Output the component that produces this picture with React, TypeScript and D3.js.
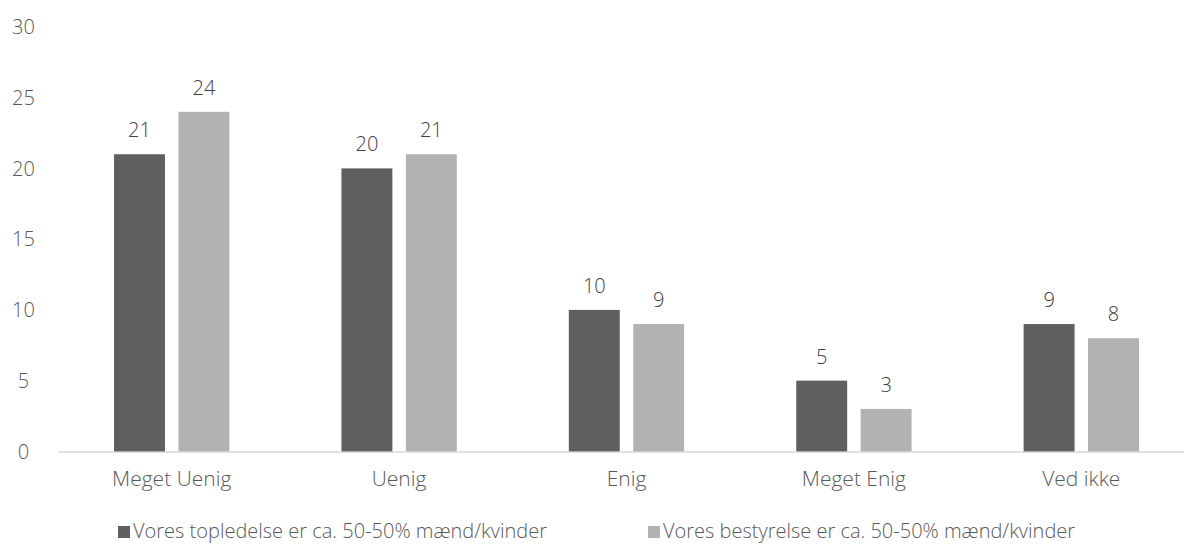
import React from "react";
import * as d3 from "d3";

const categories = ["Meget Uenig", "Uenig", "Enig", "Meget Enig", "Ved ikke"];
const topledelse = [21, 20, 10, 5, 9];
const bestyrelse = [24, 21, 9, 3, 8];
const seriesNames = [
  "Vores topledelse er ca. 50-50% mænd/kvinder",
  "Vores bestyrelse er ca. 50-50% mænd/kvinder",
];
const yTicks = [0, 5, 10, 15, 20, 25, 30];

const W = 1184;
const H = 544;
const FONT = "'Open Sans', sans-serif";
const TEXT = "#595959";
const COLORS = ["#5f5f5f", "#b2b2b2"];

export default function App() {
  const x = d3.scaleBand<string>().domain(categories).range([58, 1195]);
  const y = d3.scaleLinear().domain([0, 30]).range([451.4, 26.9]);
  const inner = d3.scaleBand<number>().domain([0, 1]).range([0, x.bandwidth()]).paddingInner(0.209).paddingOuter(0.87);
  const series = [topledelse, bestyrelse];

  return (
    <svg width={W} height={H} style={{ position: "absolute", left: 0, top: 0, background: "#fff" }} fontFamily={FONT}>
      {yTicks.map((t) => (
        <text key={t} x={23.5} y={y(t)} dy="0.36em" textAnchor="middle" fontSize={20} fill={TEXT} fontWeight={300}>
          {t}
        </text>
      ))}
      <line x1={58} x2={W} y1={y(0) + 0.5} y2={y(0) + 0.5} stroke="#d9d9d9" strokeWidth={1.5} />
      {series.map((vals, si) =>
        vals.map((v, ci) => {
          const bx = (x(categories[ci]) as number) + (inner(si) as number);
          return (
            <g key={`${si}-${ci}`}>
              <rect x={bx} y={y(v)} width={inner.bandwidth()} height={y(0) - y(v)} fill={COLORS[si]} />
              <text x={bx + inner.bandwidth() / 2} y={y(v) - 17} textAnchor="middle" fontSize={20} fill="#404040" fontWeight={300}>
                {v}
              </text>
            </g>
          );
        })
      )}
      {categories.map((c) => (
        <text key={c} x={(x(c) as number) + x.bandwidth() / 2} y={486} textAnchor="middle" fontSize={21} fill={TEXT} fontWeight={300}>
          {c}
        </text>
      ))}
      {seriesNames.map((s, i) => {
        const lx = i === 0 ? 118 : 648;
        return (
          <g key={s}>
            <rect x={lx} y={526} width={12} height={12} fill={COLORS[i]} />
            <text x={lx + 15} y={538} fontSize={20} fill={TEXT} fontWeight={300}>
              {s}
            </text>
          </g>
        );
      })}
    </svg>
  );
}
